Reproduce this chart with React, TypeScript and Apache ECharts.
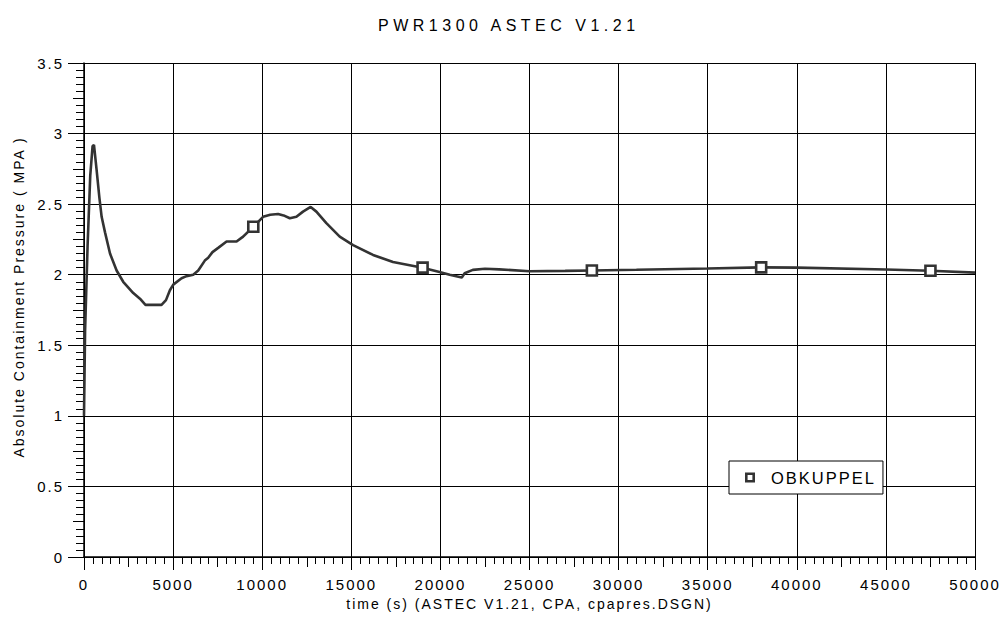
import React, { useEffect, useRef } from "react";
import * as echarts from "echarts";

const titleText = "PWR1300 ASTEC V1.21";
const seriesName = "OBKUPPEL";
const xAxisName = "time (s) (ASTEC V1.21, CPA, cpapres.DSGN)";
const yAxisName = "Absolute Containment Pressure ( MPA )";

const times = [
  0, 60, 200, 350, 480, 560, 710, 860, 990, 1180,
  1460, 1830, 2200, 2765, 3140, 3450, 4350, 4600, 4820, 5010,
  5475, 5755, 6130, 6410, 6780, 6970, 7210, 7530, 8000, 8560,
  8930, 9500, 10050, 10450, 10890, 11200, 11550, 11920, 12290, 12720,
  13040, 13600, 14350, 15100, 16220, 17340, 19000, 19950, 20520, 21200,
  21360, 21820, 22500, 23300, 25000, 27000, 28500, 31000, 35000, 38000,
  40000, 45000, 47500, 50000,
];

const pressure = [
  1.0, 1.6, 2.2, 2.7, 2.91, 2.92, 2.74, 2.55, 2.41, 2.3,
  2.15, 2.03, 1.95, 1.87, 1.83, 1.786, 1.786, 1.82, 1.89, 1.93,
  1.975, 1.99, 2.0, 2.03, 2.1, 2.12, 2.16, 2.19, 2.235, 2.235,
  2.27, 2.34, 2.41, 2.425, 2.43, 2.42, 2.4, 2.41, 2.447, 2.48,
  2.447, 2.365, 2.27, 2.21, 2.14, 2.09, 2.05, 2.02, 2.0, 1.98,
  2.01, 2.034, 2.042, 2.038, 2.025, 2.027, 2.03, 2.035, 2.044, 2.052,
  2.05, 2.037, 2.028, 2.015,
];

const markerTimes = [9500, 19000, 28500, 38000, 47500];

const xMin = 0;
const xMax = 50000;
const xStep = 5000;
const xMidStep = 2500;
const yMin = 0;
const yMax = 3.5;
const yStep = 0.5;
const yMidStep = 0.25;

const FONT = "'Liberation Sans', Arial, sans-serif";
const INK = "#333333";

const css = `
#chart-host svg text { letter-spacing: 2px; }
#chart-host svg text[style*="16px"] { letter-spacing: 4.5px; }
#chart-host svg text[style*="14px"] { letter-spacing: 2px; }
`;

export default function App() {
  const ref = useRef<HTMLDivElement>(null);

  useEffect(() => {
    if (!ref.current) return;
    const chart = echarts.init(ref.current, undefined, { renderer: "svg" });

    const data = times.map((t, i) => {
      const isMarker = markerTimes.indexOf(t) >= 0;
      return {
        value: [t, pressure[i]],
        symbol: isMarker ? "rect" : "none",
        symbolSize: isMarker ? 10 : 0,
      };
    });

    const axisLine = { show: true, lineStyle: { color: "#000", width: 1.5 } };
    const label = {
      color: "#000",
      fontSize: 15,
      fontFamily: FONT,
      formatter: (v: number) => String(v),
    };

    chart.setOption({
      animation: false,
      backgroundColor: "#fff",
      title: {
        text: titleText,
        left: 378,
        top: 12,
        padding: [5, 5, 5, 0],
        textStyle: { color: "#000", fontSize: 16, fontWeight: "normal", fontFamily: FONT },
      },
      legend: {
        left: 729,
        top: 461,
        orient: "vertical",
        padding: [8, 23, 8, 16],
        backgroundColor: "#fff",
        borderColor: "#000",
        borderWidth: 1,
        borderRadius: 0,
        itemWidth: 10,
        itemHeight: 10,
        textStyle: { color: "#000", fontSize: 16.5, fontFamily: FONT, padding: [0, 0, 0, 11] },
        data: [
          {
            name: seriesName,
            icon: "path://M0,0H10V10H0Z M2.6,2.6V7.4H7.4V2.6Z",
            itemStyle: { color: INK, borderWidth: 0 },
          },
        ],
      },
      grid: { left: 84, right: 27, top: 63, bottom: 61, containLabel: false },
      xAxis: [
        {
          type: "value",
          min: xMin,
          max: xMax,
          interval: xStep,
          position: "bottom",
          name: xAxisName,
          nameLocation: "middle",
          nameGap: 39,
          nameTextStyle: { color: "#000", fontSize: 14, fontFamily: FONT },
          axisLine,
          axisTick: { show: true, length: 13, lineStyle: { color: "#000", width: 1 } },
          minorTick: { show: true, splitNumber: 10, length: 7, lineStyle: { color: "#000", width: 1 } },
          axisLabel: { ...label, margin: 20 },
          splitLine: { show: true, lineStyle: { color: "#000", width: 1 } },
        },
        {
          type: "value",
          min: xMin,
          max: xMax,
          interval: xMidStep,
          position: "bottom",
          axisLine: { show: false },
          axisTick: { show: true, length: 10, lineStyle: { color: "#000", width: 1 } },
          axisLabel: { show: false },
          splitLine: { show: false },
        },
      ],
      yAxis: [
        {
          type: "value",
          min: yMin,
          max: yMax,
          interval: yStep,
          position: "left",
          name: yAxisName,
          nameLocation: "middle",
          nameGap: 58,
          nameTextStyle: {
            color: "#000",
            fontSize: 14,
            fontFamily: FONT,
            padding: [0, 0, 0, 26],
          },
          axisLine,
          axisTick: { show: true, length: 16, lineStyle: { color: "#000", width: 1 } },
          minorTick: { show: true, splitNumber: 10, length: 8, lineStyle: { color: "#000", width: 1 } },
          axisLabel: { ...label, margin: 20 },
          splitLine: { show: true, lineStyle: { color: "#000", width: 1 } },
        },
        {
          type: "value",
          min: yMin,
          max: yMax,
          interval: yMidStep,
          position: "left",
          axisLine: { show: false },
          axisTick: { show: true, length: 11, lineStyle: { color: "#000", width: 1 } },
          axisLabel: { show: false },
          splitLine: { show: false },
        },
      ],
      series: [
        {
          name: seriesName,
          type: "line",
          xAxisIndex: 0,
          yAxisIndex: 0,
          data,
          showSymbol: true,
          showAllSymbol: true,
          lineStyle: { color: INK, width: 2.6 },
          itemStyle: { color: "#fff", borderColor: INK, borderWidth: 2.6 },
          z: 5,
        },
      ],
    });

    return () => chart.dispose();
  }, []);

  return (
    <>
      <style>{css}</style>
      <div
        id="chart-host"
        ref={ref}
        style={{ position: "fixed", left: 0, top: 0, width: 1002, height: 618 }}
      />
    </>
  );
}
